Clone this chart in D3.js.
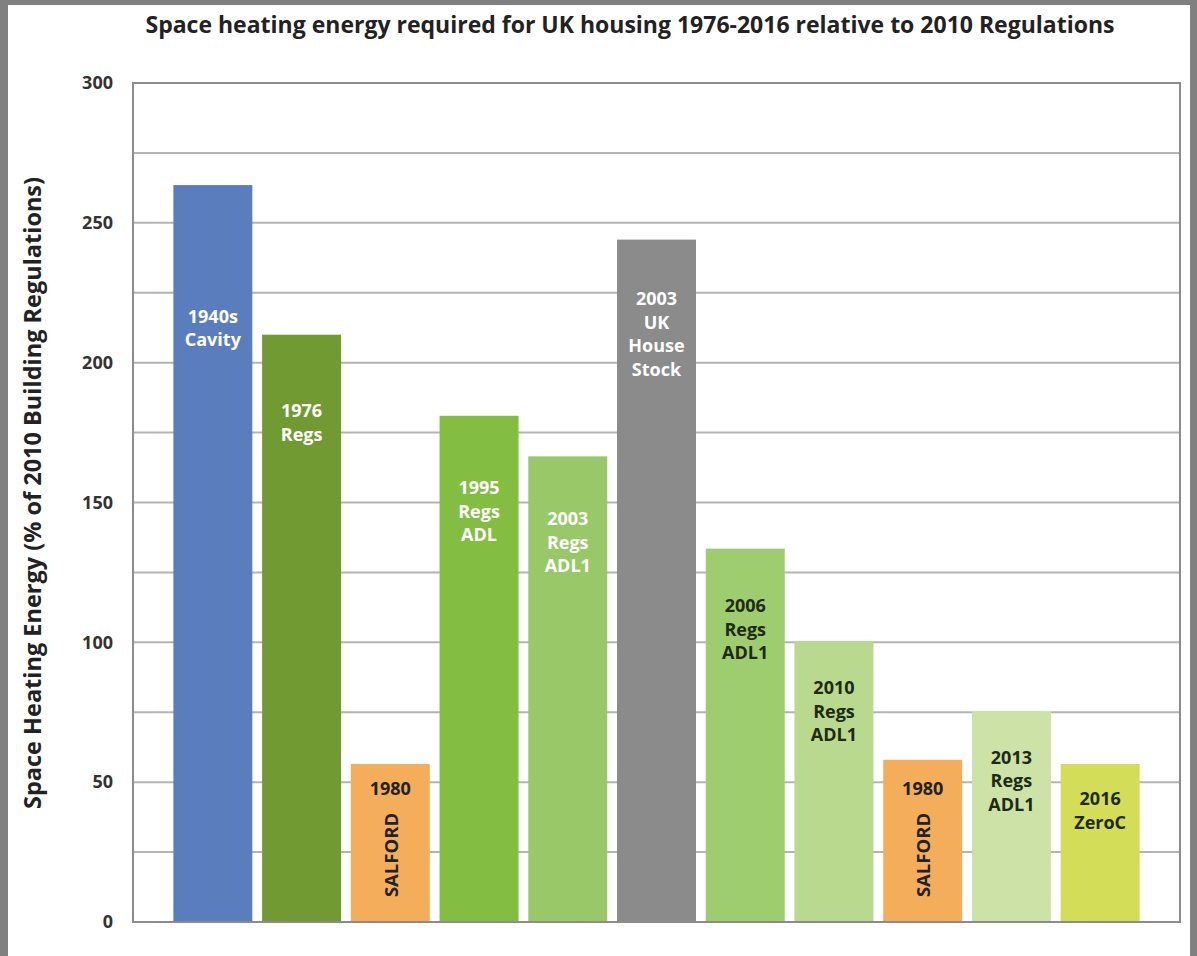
<!DOCTYPE html>
<html>
<head>
<meta charset="utf-8">
<script src="https://cdn.jsdelivr.net/npm/d3@7"></script>
<style>
	body { margin: 0; background: #fff; }
	text { font-family: "Open Sans", sans-serif; font-weight: bold; }
</style>
</head>
<body>
<svg id="chart" width="1197" height="956"></svg>
<script>
// bar labels, one line per array entry
var barLabels = [
	["1940s", "Cavity"],
	["1976", "Regs"],
	["1980"],
	["1995", "Regs", "ADL"],
	["2003", "Regs", "ADL1"],
	["2003", "UK", "House", "Stock"],
	["2006", "Regs", "ADL1"],
	["2010", "Regs", "ADL1"],
	["1980"],
	["2013", "Regs", "ADL1"],
	["2016", "ZeroC"]
];

// % of 2010 Building Regulations
var barValues = [263.5, 210, 56.5, 181, 166.5, 244, 133.5, 100.5, 58, 75.5, 56.5];

// where the first label line sits, in the same % units
var labelValues = [216.7, 183, 47.9, 155.5, 144.4, 223.1, 113.3, 84, 47.9, 59, 44.3];

// rotated word at the foot of some bars
var sideLabels = ["", "", "SALFORD", "", "", "", "", "", "SALFORD", "", ""];

var barColors = ["#5a7ebd", "#719b32", "#f4ae5b", "#83bd41", "#98c867", "#8b8b8b",
	"#9ecd6f", "#b9d98e", "#f4ae5b", "#cde2a7", "#d3dd57"];

var labelColors = ["#fff", "#fff", "#222", "#fff", "#fff", "#fff",
	"#1e2a12", "#1e2a12", "#222", "#1e2a12", "#1e2a12"];

var yTicks = [0, 50, 100, 150, 200, 250, 300];
var yGrid = d3.range(25, 300, 25);

var svg = d3.select("#chart");

//grey frame of the picture
svg.append("rect").attr("x", 0).attr("y", 0).attr("width", 1197).attr("height", 956).attr("fill", "#808080");
svg.append("rect").attr("x", 8).attr("y", 5).attr("width", 1182).attr("height", 951).attr("fill", "#fff");

// window.top is taken, so plot edges get their own names
var plotLeft = 133, plotRight = 1180, plotTop = 83, plotBottom = 922;

var x = d3.scaleBand()
	.domain(d3.range(barValues.length))
	.range([plotLeft, plotRight])
	.paddingInner(0.11)
	.paddingOuter(0.455);

var y = d3.scaleLinear()
	.domain([0, 300])
	.range([plotBottom, plotTop]);

//gridlines
svg.append("g")
	.selectAll("line")
	.data(yGrid)
	.enter()
	.append("line")
	.attr("x1", plotLeft)
	.attr("x2", plotRight)
	.attr("y1", function(d){ return y(d); })
	.attr("y2", function(d){ return y(d); })
	.style("stroke", "#b4b4b4")
	.style("stroke-width", 2);

//bars
svg.append("g")
	.selectAll("rect")
	.data(barValues)
	.enter()
	.append("rect")
	.attr("x", function(d, i){ return x(i); })
	.attr("y", function(d){ return y(d); })
	.attr("width", x.bandwidth())
	.attr("height", function(d){ return y(0) - y(d); })
	.attr("fill", function(d, i){ return barColors[i]; });

//frame around plot
svg.append("rect")
	.attr("x", plotLeft)
	.attr("y", plotTop)
	.attr("width", plotRight - plotLeft)
	.attr("height", plotBottom - plotTop)
	.attr("fill", "none")
	.style("stroke", "#8c8c8c")
	.style("stroke-width", 2);

//y axis ticks, labels only
var yAxis = d3.axisLeft(y).tickValues(yTicks).tickSize(0).tickPadding(20);
var yAxisG = svg.append("g")
	.attr("transform", "translate(" + plotLeft + ",0)")
	.call(yAxis);
yAxisG.select(".domain").remove();
yAxisG.selectAll("text")
	.style("font-size", "18px")
	.style("font-family", "\"Open Sans\", sans-serif")
	.style("font-weight", "bold")
	.attr("fill", "#333");

//bar labels, one text per line
barLabels.forEach(function(lines, i){
	var cx = x(i) + x.bandwidth() / 2;
	var y0 = y(labelValues[i]);
	svg.append("g")
		.selectAll("text")
		.data(lines)
		.enter()
		.append("text")
		.attr("x", cx)
		.attr("y", function(d, j){ return y0 + j * 23.5; })
		.attr("text-anchor", "middle")
		.attr("dominant-baseline", "central")
		.style("font-size", "18px")
		.attr("fill", labelColors[i])
		.text(function(d){ return d; });
	if (sideLabels[i]) {
		svg.append("text")
			.attr("transform", "translate(" + cx + "," + (plotBottom - 67) + ") rotate(-90)")
			.attr("text-anchor", "middle")
			.attr("dominant-baseline", "central")
			.style("font-size", "18.5px")
			.attr("fill", "#222")
			.text(sideLabels[i]);
	}
});

//title
svg.append("text")
	.attr("x", 630)
	.attr("y", 33)
	.attr("text-anchor", "middle")
	.style("font-size", "23px")
	.attr("fill", "#222")
	.text("Space heating energy required for UK housing 1976-2016 relative to 2010 Regulations");

//y axis title
svg.append("text")
	.attr("transform", "translate(32,493) rotate(-90)")
	.attr("text-anchor", "middle")
	.attr("dominant-baseline", "central")
	.style("font-size", "23.5px")
	.attr("fill", "#222")
	.text("Space Heating Energy (% of 2010 Building Regulations)");
</script>
</body>
</html>
